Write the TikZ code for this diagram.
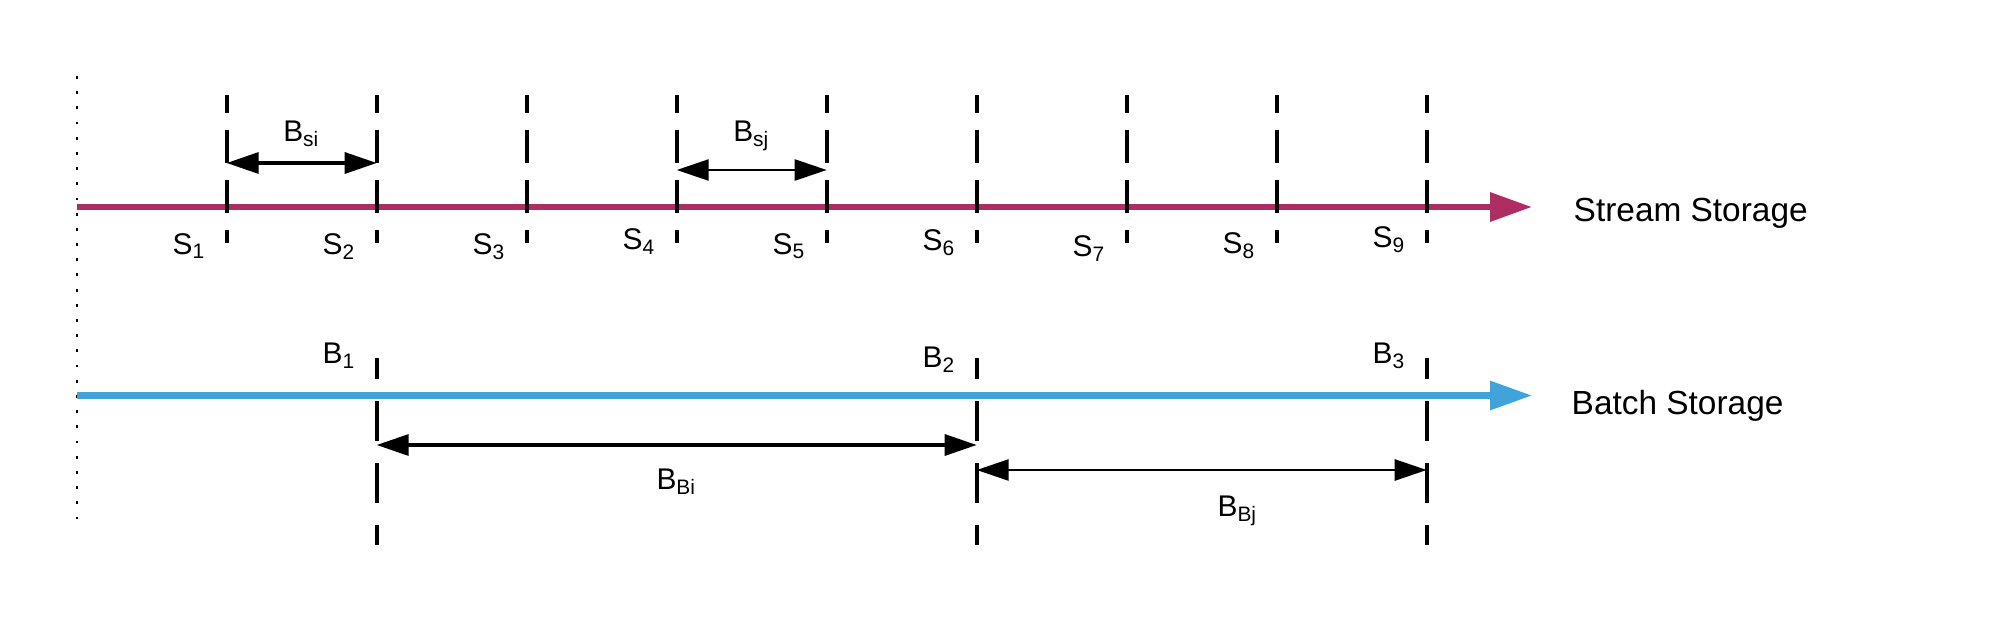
\documentclass[tikz,border=0pt]{standalone}
\usepackage{fontspec}
\setmainfont{Liberation Sans}
\usetikzlibrary{positioning,arrows.meta,calc}
\definecolor{streamred}{RGB}{174,45,98}
\definecolor{batchblue}{RGB}{64,164,218}

\begin{document}
\begin{tikzpicture}[x=0.01cm, y=-0.01cm,
            mainline/.style={line width=1.8pt, -{Triangle[length=4.2mm, width=2.8mm]}},
            stick/.style={line width=1.1pt, dash pattern=on 0.33cm off 0.17cm, dash phase=0.15cm},
            btick/.style={line width=1.1pt, dash pattern=on 0.40cm off 0.22cm, dash phase=0.19cm},
            span/.style={line width=0.95pt, {Triangle[length=3.2mm, width=2.1mm]}-{Triangle[length=3.2mm, width=2.1mm]}},
            lbl/.style={inner sep=0pt, font=\fontsize{8.5}{10}\selectfont},
            store/.style={inner sep=0pt, anchor=base west, font=\fontsize{9.5}{11}\selectfont}
        ]
            \useasboundingbox (0,0) rectangle (1989,621);
            % time origin
            \coordinate (top) at (77,76);
            \coordinate (bottom) at (77,520);
            \draw[line width=0.8pt, dash pattern=on 0.8pt off 3.52pt] (top) -- (bottom);
            % stream storage
            \coordinate (sstart) at (77,207);
            \coordinate (send) at (1532,207);
            \draw[mainline, streamred] (sstart) -- (send);
            \node[store] (stream) at (1573,221) {Stream Storage};
            \foreach \i/\yb in {1/254.2,2/254.2,3/254.2,4/249.4,5/254.2,6/250.4,7/256.7,8/253.7,9/247.2} {
                \coordinate (t\i) at ({226.7+150*(\i-1)},207);
                \draw[stick] (t\i |- 0,95) -- (t\i |- 0,243);
                \node[lbl, anchor=base east] (s\i) at ($(t\i |- 0,\yb)+(-20,0)$) {S\textsubscript{\i}};
            }
            \coordinate (si1) at (t1 |- 0,163);
            \coordinate (si2) at (t2 |- 0,163);
            \draw[span] (si1) -- (si2);
            \node[lbl, anchor=base] (bsi) at ($(si1)!0.5!(si2)+(0,-21.5)$) {B\textsubscript{si}};
            \coordinate (sj1) at (t4 |- 0,170);
            \coordinate (sj2) at (t5 |- 0,170);
            \draw[span, line width=0.7pt] (sj1) -- (sj2);
            \node[lbl, anchor=base] (bsj) at ($(sj1)!0.5!(sj2)+(0,-28.6)$) {B\textsubscript{sj}};
            % batch storage
            \foreach \k/\t/\yb in {1/t2/363.7,2/t6/367.5,3/t9/363.5} {
                \draw[btick] (\t |- 0,358) -- (\t |- 0,545);
                \node[lbl, anchor=base east] (b\k) at ($(\t |- 0,\yb)+(-20,0)$) {B\textsubscript{\k}};
            }
            \coordinate (bstart) at (77,395.5);
            \coordinate (bend) at (1532,395.5);
            \draw[mainline, batchblue] (bstart) -- (bend);
            \node[store] (batch) at (1571,414) {Batch Storage};
            \coordinate (bi1) at (t2 |- 0,445);
            \coordinate (bi2) at (t6 |- 0,445);
            \draw[span] (bi1) -- (bi2);
            \node[lbl, anchor=base] (bbi) at ($(bi1)!0.5!(bi2)+(0,44)$) {B\textsubscript{Bi}};
            \coordinate (bj1) at (t6 |- 0,470);
            \coordinate (bj2) at (t9 |- 0,470);
            \draw[span, line width=0.75pt] (bj1) -- (bj2);
            \node[lbl, anchor=base] (bbj) at ($(bj1)!0.5!(bj2)+(36,46)$) {B\textsubscript{Bj}};
        \end{tikzpicture}
\end{document}
